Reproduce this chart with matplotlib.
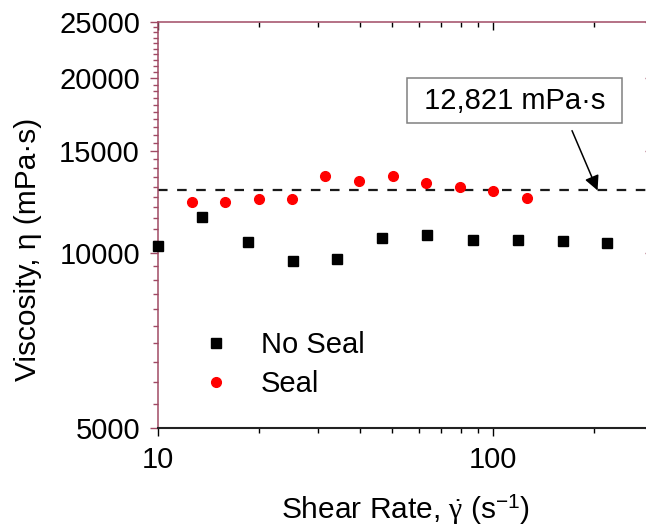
import matplotlib
matplotlib.use("Agg")
import matplotlib.pyplot as plt
from matplotlib.ticker import FixedLocator, NullFormatter

plt.rcParams["font.family"] = ["Liberation Sans", "DejaVu Sans"]
plt.rcParams["mathtext.fontset"] = "custom"
plt.rcParams["mathtext.rm"] = "Liberation Sans"
plt.rcParams["mathtext.it"] = "Liberation Serif"

# data
no_seal_rate = [10.0, 13.5, 18.5, 25.2, 34.3, 46.7, 63.7, 86.9, 118.5, 161.5, 219.0]
no_seal_visc = [10280, 11550, 10450, 9700, 9780, 10600, 10730, 10530, 10540, 10490, 10420]
seal_rate = [12.6, 15.8, 20.0, 25.1, 31.6, 39.8, 50.1, 63.1, 79.4, 100.0, 125.9]
seal_visc = [12230, 12260, 12370, 12400, 13550, 13300, 13570, 13200, 12990, 12790, 12420]
mean_visc = 12821
mean_label = " 12,821 mPa·s "

y_major = [5000, 10000, 15000, 20000, 25000]
y_minor = list(range(5000, 25001, 500))
x_major = [10, 100]
x_minor = [20, 30, 40, 50, 60, 70, 80, 90, 200, 300]

maroon = "#a04a64"
fs = 21
fs_label = 21.5

fig = plt.figure(figsize=(6.46, 5.31), dpi=100)
ax = fig.add_axes([0.2446, 0.194, 0.7662, 0.7646])
ax.set_xscale("log")
ax.set_yscale("log")
ax.set_xlim(10, 300)
ax.set_ylim(5000, 25000)

ax.axhline(mean_visc, color="#1a1a1a", lw=1.6, dashes=(4.3, 4.3), zorder=1)
ax.plot(no_seal_rate, no_seal_visc, ls="none", marker="s", ms=6.5,
        color="black", label="No Seal", zorder=3, clip_on=False)
ax.plot(seal_rate, seal_visc, ls="none", marker="o", ms=7,
        color="#ff0000", label="Seal", zorder=3)

ax.text(116, 18300, mean_label, fontsize=fs, ha="center", va="center",
        bbox=dict(boxstyle="square,pad=0.3", fc="white", ec="#808080", lw=1.1))
ax.annotate("", xy=(205, mean_visc), xytext=(172, 16250),
            arrowprops=dict(arrowstyle="-|>", color="black", lw=1.1,
                            mutation_scale=22, shrinkA=0, shrinkB=0))

ax.yaxis.set_major_locator(FixedLocator(y_major))
ax.yaxis.set_minor_locator(FixedLocator(y_minor))
ax.yaxis.set_minor_formatter(NullFormatter())
ax.set_yticklabels([str(v) for v in y_major])
ax.xaxis.set_major_locator(FixedLocator(x_major))
ax.xaxis.set_minor_locator(FixedLocator(x_minor))
ax.xaxis.set_minor_formatter(NullFormatter())
ax.set_xticklabels([str(v) for v in x_major])

ax.tick_params(axis="both", which="both", labelsize=fs)
ax.tick_params(axis="y", which="both", direction="out", color=maroon, width=1.0)
ax.tick_params(axis="y", which="major", length=6, pad=7, right=True)
ax.tick_params(axis="y", which="minor", length=3.5, right=False)
ax.tick_params(axis="x", which="both", direction="out", top=True, width=1.0)
ax.tick_params(axis="x", which="major", length=6, pad=7)
ax.tick_params(axis="x", which="minor", length=3.5)
# mirrored ticks on top/right point into the plot, like the opposite side
for tick in ax.xaxis.get_major_ticks() + ax.xaxis.get_minor_ticks():
    tick.tick2line.set_marker(3)
    tick.tick2line.set_color(maroon)
    tick.tick1line.set_color("#222222")
for tick in ax.yaxis.get_major_ticks():
    tick.tick2line.set_marker(0)

ax.spines["left"].set_color(maroon)
ax.spines["top"].set_color(maroon)
ax.spines["right"].set_visible(False)
ax.spines["bottom"].set_color("#222222")
ax.spines["bottom"].set_linewidth(1.5)
ax.spines["left"].set_linewidth(1.1)
ax.spines["top"].set_linewidth(1.1)

ax.set_ylabel("Viscosity, η (mPa·s)", fontsize=fs_label)
ax.yaxis.set_label_coords(-0.235, 0.44)
ax.set_xlabel(r"Shear Rate, $\dot{\gamma}$ (s$^{-1}$)", fontsize=fs_label, labelpad=14)

ax.legend(loc="upper left", bbox_to_anchor=(0.087, 0.238), frameon=False,
          fontsize=fs, handlelength=1.0, handletextpad=1.05, labelspacing=0.38,
          borderpad=0, borderaxespad=0)

fig.savefig("out.png", dpi=100)
